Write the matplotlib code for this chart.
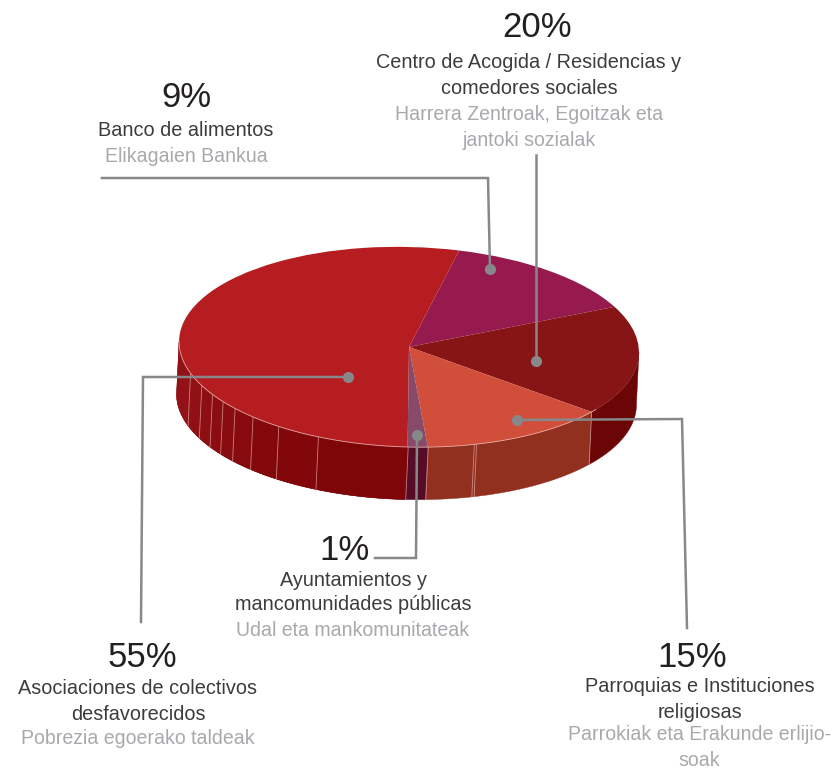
import numpy as np
import matplotlib
matplotlib.use("Agg")
import matplotlib.pyplot as plt
from matplotlib.colors import to_rgb
from matplotlib.transforms import Affine2D

# slices clockwise from the top, shares as they are drawn in the picture
slice_names = ["alimentos", "centros", "parroquias", "ayuntamientos", "asociaciones"]
slice_shares = [14.1, 17.8, 13.3, 1.4, 53.4]
percents = ["9%", "20%", "15%", "1%", "55%"]

spanish = [
    ["Banco de alimentos"],
    ["Centro de Acogida / Residencias y", "comedores sociales"],
    ["Parroquias e Instituciones", "religiosas"],
    ["Ayuntamientos y", "mancomunidades públicas"],
    ["Asociaciones de colectivos", "desfavorecidos"],
]
basque = [
    ["Elikagaien Bankua"],
    ["Harrera Zentroak, Egoitzak eta", "jantoki sozialak"],
    ["Parrokiak eta Erakunde erlijio-", "soak"],
    ["Udal eta mankomunitateak"],
    ["Pobrezia egoerako taldeak"],
]

top_colors = ["#971a4f", "#871516", "#d14e3b", "#874a6b", "#b51d20"]
side_colors = ["#971a4f", "#6b0506", "#923020", "#560c26", "#7e0508"]

CX, CY = 409, 347
RX, RY = 230, 100
TILT = 1.6
DEPTH_X, DEPTH_Y = -2.5, 52.5
SIDE_FROM, SIDE_TO = 180.7, 360.7  # the part of the rim facing the viewer

# seams on the rim, as angles on the ellipse
red_seams = [198.9, 206.4, 212, 216.75, 221.55, 228, 236.2, 247.5]
orange_seams = [287.2, 287.8]
other_seams = [270.5, 275.5, 323.3]


def rim_points(theta1, theta2, n=80):
    """Points on the top rim between two angles, in pixels."""
    t = np.radians(np.linspace(theta1, theta2, n))
    x = RX * np.cos(t)
    y = RY * np.sin(t)
    r = np.radians(-TILT)
    px = x * np.cos(r) - y * np.sin(r) + CX
    py = CY - (x * np.sin(r) + y * np.cos(r))
    return px, py


def draw_side(ax, theta1, theta2, color):
    px, py = rim_points(theta1, theta2)
    xs = np.concatenate([px, px[::-1] + DEPTH_X])
    ys = np.concatenate([py, py[::-1] + DEPTH_Y])
    ax.fill(xs, ys, color=color, lw=0.3, zorder=1)


def draw_seam(ax, theta):
    px, py = rim_points(theta, theta, 1)
    ax.plot([px[0], px[0] + DEPTH_X], [py[0], py[0] + DEPTH_Y],
            color="#e8b4b0", lw=0.6, alpha=0.7, zorder=2)


def draw_leader(ax, xs, ys):
    ax.plot(xs, ys, color="#87888a", lw=1.8, zorder=5, solid_joinstyle="miter")
    ax.plot(xs[0], ys[0], "o", color="#87888a", ms=8, mew=0, zorder=6)


def draw_label(ax, x_pct, y_pct, x_text, ys, pct, dark, light):
    ax.text(x_pct, y_pct + 2.5, pct, fontsize=25, color="#231f20", ha="center", va="center")
    lines = [(t, "#3c3c3c", 14.3) for t in dark] + [(t, "#a7a9ac", 14.05) for t in light]
    for y, (t, c, size) in zip(ys, lines):
        ax.text(x_text, y + 2, t, fontsize=size, color=c, ha="center", va="center")


def main():
    plt.rcParams["font.family"] = ["Liberation Sans", "DejaVu Sans"]
    fig = plt.figure(figsize=(8.32, 7.69), dpi=100)
    ax = fig.add_axes([0, 0, 1, 1])

    wedges, _ = ax.pie(slice_shares, startangle=78.1, counterclock=False,
                       colors=top_colors, frame=True,
                       wedgeprops={"linewidth": 0.3, "zorder": 3})
    ax.set_aspect("auto")
    ax.set_xlim(0, 832)
    ax.set_ylim(769, 0)
    ax.axis("off")

    squash = (Affine2D().scale(RX, RY).rotate_deg(-TILT)
              .scale(1, -1).translate(CX, CY) + ax.transData)
    for wedge, side in zip(wedges, side_colors):
        wedge.set_transform(squash)
        wedge.set_zorder(3)
        lo, hi = wedge.theta1, wedge.theta2
        if lo < 0:
            lo, hi = lo + 360, hi + 360
        lo, hi = max(lo, SIDE_FROM), min(hi, SIDE_TO)
        if lo < hi:
            draw_side(ax, lo, hi, side)

    # the big red side goes lighter in facets towards the left
    edges = [SIDE_FROM] + red_seams + [270.5]
    shades = np.linspace(0, 1, len(edges) - 1)
    light, deep = np.array(to_rgb("#931217")), np.array(to_rgb("#7e0508"))
    for a, b, s in zip(edges[:-1], edges[1:], shades):
        draw_side(ax, a, b, tuple(light + (deep - light) * s))

    for theta in red_seams + orange_seams + other_seams:
        draw_seam(ax, theta)
    px, py = rim_points(SIDE_FROM, 325)
    ax.plot(px, py, color="#e6a9a2", lw=0.6, zorder=4)

    draw_leader(ax, [490, 488, 102], [269, 178, 178])
    draw_leader(ax, [536, 536], [361, 155])
    draw_leader(ax, [517, 682, 687], [420, 419, 628])
    draw_leader(ax, [417, 416, 375], [435, 558, 558])
    draw_leader(ax, [348, 143, 141], [377, 377, 622])

    draw_label(ax, 186, 95, 186, [129, 154], percents[0], spanish[0], basque[0])
    draw_label(ax, 537, 25, 529, [61, 87, 113, 139], percents[1], spanish[1], basque[1])
    draw_label(ax, 692, 655, 699.5, [684, 710, 733, 758], percents[2], spanish[2], basque[2])
    draw_label(ax, 345, 548, 353, [579, 603, 628], percents[3], spanish[3], basque[3])
    draw_label(ax, 142, 655, 138, [686, 712, 737], percents[4], spanish[4], basque[4])

    fig.savefig("out.png", dpi=100, facecolor="white")


if __name__ == "__main__":
    main()
